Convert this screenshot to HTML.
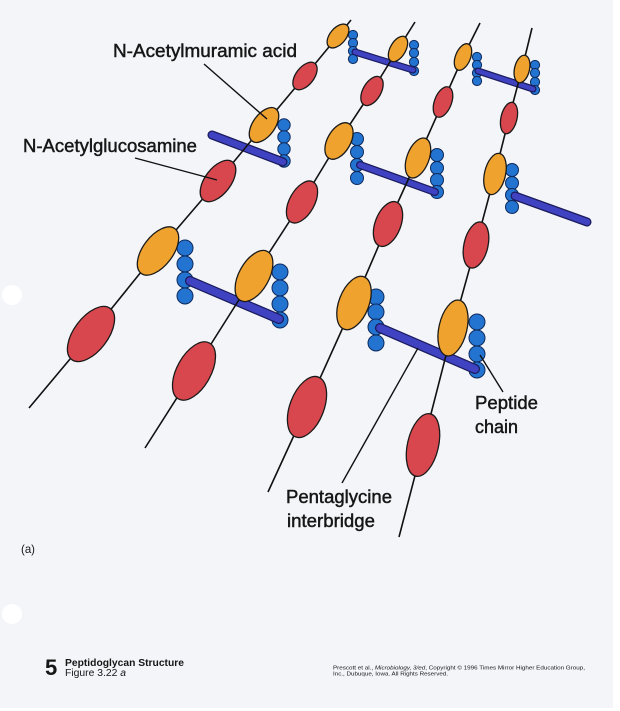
<!DOCTYPE html>
<html>
<head>
<meta charset="utf-8">
<style>
  html, body { margin:0; padding:0; background:#ffffff; }
  body { width:620px; height:711px; overflow:hidden; }
  svg { display:block; }
  .lbl { font-family:"Liberation Sans", Arial, sans-serif; font-size:18px; fill:#161616; stroke:#161616; stroke-width:0.45; }
  .ft { font-family:"Liberation Sans", Arial, sans-serif; fill:#161616; }
</style>
</head>
<body>
<svg width="620" height="711" viewBox="0 0 620 711" xmlns="http://www.w3.org/2000/svg">
  <!-- background -->
  <rect x="0" y="0" width="620" height="711" fill="#ffffff"/>
  <rect x="0" y="0" width="613" height="708" fill="#f3f5f9"/>
  <!-- punch holes -->
  <circle cx="12" cy="295" r="10" fill="#ffffff"/>
  <circle cx="12" cy="614" r="10" fill="#ffffff"/>

  <!-- peptide circles -->
  <g fill="#2373d1" stroke="#0f2a5c" stroke-width="1">
    <!-- P1a -->
    <circle cx="353" cy="35" r="4.6"/><circle cx="353" cy="43" r="4.6"/><circle cx="353" cy="51" r="4.6"/><circle cx="353" cy="59" r="4.6"/>
    <!-- P2a -->
    <circle cx="414" cy="45" r="4.6"/><circle cx="414" cy="53" r="4.6"/><circle cx="414" cy="62" r="4.6"/><circle cx="414" cy="71" r="4.6"/>
    <!-- P3a -->
    <circle cx="477" cy="57" r="4.6"/><circle cx="477" cy="65" r="4.6"/><circle cx="477" cy="73" r="4.6"/><circle cx="477" cy="81" r="4.6"/>
    <!-- P4a -->
    <circle cx="535" cy="65" r="4.6"/><circle cx="535" cy="73" r="4.6"/><circle cx="535" cy="82" r="4.6"/><circle cx="535" cy="90" r="4.6"/>
    <!-- P1b -->
    <circle cx="284" cy="125" r="6.2"/><circle cx="284" cy="137" r="6.2"/><circle cx="284" cy="149" r="6.2"/><circle cx="284" cy="161" r="6.2"/>
    <!-- P2b -->
    <circle cx="357" cy="139" r="6.5"/><circle cx="357" cy="152" r="6.5"/><circle cx="357" cy="165" r="6.5"/><circle cx="357" cy="178" r="6.5"/>
    <!-- P3b -->
    <circle cx="437" cy="155" r="6.5"/><circle cx="437" cy="168" r="6.5"/><circle cx="437" cy="180" r="6.5"/><circle cx="437" cy="192" r="6.5"/>
    <!-- P4b -->
    <circle cx="512" cy="170" r="6.5"/><circle cx="512" cy="183" r="6.5"/><circle cx="512" cy="195" r="6.5"/><circle cx="512" cy="207" r="6.5"/>
    <!-- P1c -->
    <circle cx="185" cy="248" r="8"/><circle cx="185" cy="264" r="8"/><circle cx="185" cy="280" r="8"/><circle cx="185" cy="296" r="8"/>
    <!-- P2c -->
    <circle cx="280" cy="272" r="8"/><circle cx="280" cy="288" r="8"/><circle cx="280" cy="304" r="8"/><circle cx="280" cy="320" r="8"/>
    <!-- P3c -->
    <circle cx="376" cy="297" r="8"/><circle cx="376" cy="312" r="8"/><circle cx="376" cy="327" r="8"/><circle cx="376" cy="343" r="8"/>
    <!-- P4c -->
    <circle cx="477" cy="322" r="8"/><circle cx="477" cy="338" r="8"/><circle cx="477" cy="354" r="8"/><circle cx="477" cy="370" r="8"/>
  </g>

  <!-- pentaglycine bars: outline -->
  <g stroke="#1b1b5e" stroke-linecap="round" fill="none">
    <line x1="355" y1="52" x2="413" y2="70" stroke-width="7"/>
    <line x1="212" y1="135" x2="283" y2="162" stroke-width="9"/>
    <line x1="360" y1="165" x2="435" y2="192" stroke-width="8"/>
    <line x1="478" y1="71" x2="533" y2="89" stroke-width="7"/>
    <line x1="515" y1="196" x2="587" y2="222" stroke-width="9"/>
    <line x1="190" y1="281" x2="279" y2="319" stroke-width="10"/>
    <line x1="380" y1="328" x2="475" y2="369" stroke-width="10"/>
  </g>
  <!-- pentaglycine bars: fill -->
  <g stroke="#3f43c2" stroke-linecap="round" fill="none">
    <line x1="355" y1="52" x2="413" y2="70" stroke-width="4.6"/>
    <line x1="212" y1="135" x2="283" y2="162" stroke-width="6.5"/>
    <line x1="360" y1="165" x2="435" y2="192" stroke-width="5.6"/>
    <line x1="478" y1="71" x2="533" y2="89" stroke-width="4.6"/>
    <line x1="515" y1="196" x2="587" y2="222" stroke-width="6.5"/>
    <line x1="190" y1="281" x2="279" y2="319" stroke-width="7.5"/>
    <line x1="380" y1="328" x2="475" y2="369" stroke-width="7.5"/>
  </g>

  <!-- glycan chain backbones -->
  <g stroke="#111111" stroke-width="1.6" fill="none" stroke-linejoin="round">
    <polyline points="29,408 91,334 158,251 218,181 264,125 305,76 338,36 351,20"/>
    <polyline points="145,448 194,371 254,276 302,202 339,141 372,91 398,49 415,22"/>
    <polyline points="268,492 307,407 354,303 388,224 418,158 443,102 463,57 480,23"/>
    <polyline points="399,537 423,445 453,328 476,245 495,174 509,118 522,69 532,28"/>
  </g>

  <!-- sugars -->
  <g stroke="#1a1a1a" stroke-width="1.3">
    <!-- chain 1 -->
    <ellipse cx="91" cy="334" rx="17" ry="32" fill="#d9474e" transform="rotate(37 91 334)"/>
    <ellipse cx="158" cy="251" rx="15" ry="28" fill="#f0a22e" transform="rotate(37 158 251)"/>
    <ellipse cx="218" cy="181" rx="13" ry="24" fill="#d9474e" transform="rotate(37 218 181)"/>
    <ellipse cx="264" cy="125" rx="11" ry="20" fill="#f0a22e" transform="rotate(36 264 125)"/>
    <ellipse cx="305" cy="76" rx="9" ry="16" fill="#d9474e" transform="rotate(38 305 76)"/>
    <ellipse cx="338" cy="36" rx="8" ry="14" fill="#f0a22e" transform="rotate(40 338 36)"/>
    <!-- chain 2 -->
    <ellipse cx="194" cy="371" rx="17" ry="32" fill="#d9474e" transform="rotate(29 194 371)"/>
    <ellipse cx="254" cy="276" rx="15" ry="28" fill="#f0a22e" transform="rotate(29 254 276)"/>
    <ellipse cx="302" cy="202" rx="12.5" ry="23" fill="#d9474e" transform="rotate(29 302 202)"/>
    <ellipse cx="339" cy="141" rx="11.5" ry="20" fill="#f0a22e" transform="rotate(30 339 141)"/>
    <ellipse cx="372" cy="91" rx="9" ry="16" fill="#d9474e" transform="rotate(30 372 91)"/>
    <ellipse cx="398" cy="49" rx="7.7" ry="14" fill="#f0a22e" transform="rotate(30 398 49)"/>
    <!-- chain 3 -->
    <ellipse cx="307" cy="407" rx="17" ry="32" fill="#d9474e" transform="rotate(21 307 407)"/>
    <ellipse cx="354" cy="303" rx="15" ry="28" fill="#f0a22e" transform="rotate(21 354 303)"/>
    <ellipse cx="388" cy="224" rx="12.8" ry="23.5" fill="#d9474e" transform="rotate(21 388 224)"/>
    <ellipse cx="418" cy="158" rx="11" ry="21" fill="#f0a22e" transform="rotate(21 418 158)"/>
    <ellipse cx="443" cy="102" rx="8.5" ry="16" fill="#d9474e" transform="rotate(21 443 102)"/>
    <ellipse cx="463" cy="57" rx="7.5" ry="14" fill="#f0a22e" transform="rotate(22 463 57)"/>
    <!-- chain 4 -->
    <ellipse cx="423" cy="445" rx="15.5" ry="32" fill="#d9474e" transform="rotate(13 423 445)"/>
    <ellipse cx="453" cy="328" rx="14" ry="28.5" fill="#f0a22e" transform="rotate(13 453 328)"/>
    <ellipse cx="476" cy="245" rx="12" ry="23.5" fill="#d9474e" transform="rotate(13 476 245)"/>
    <ellipse cx="495" cy="174" rx="10.5" ry="21" fill="#f0a22e" transform="rotate(13 495 174)"/>
    <ellipse cx="509" cy="118" rx="8" ry="16" fill="#d9474e" transform="rotate(13 509 118)"/>
    <ellipse cx="522" cy="69" rx="7.5" ry="14" fill="#f0a22e" transform="rotate(13 522 69)"/>
  </g>

  <!-- leader lines -->
  <g stroke="#111111" stroke-width="1.4" fill="none">
    <line x1="204" y1="64" x2="267" y2="119"/>
    <line x1="135" y1="158" x2="217" y2="180"/>
    <line x1="503" y1="392" x2="480" y2="355"/>
    <line x1="342" y1="483" x2="418" y2="348"/>
  </g>

  <!-- labels -->
  <text class="lbl" x="113" y="57" textLength="184" lengthAdjust="spacingAndGlyphs">N-Acetylmuramic acid</text>
  <text class="lbl" x="23" y="152" textLength="174" lengthAdjust="spacingAndGlyphs">N-Acetylglucosamine</text>
  <text class="lbl" x="475" y="409" textLength="63" lengthAdjust="spacingAndGlyphs">Peptide</text>
  <text class="lbl" x="475" y="433" textLength="43" lengthAdjust="spacingAndGlyphs">chain</text>
  <text class="lbl" x="286" y="503" textLength="106" lengthAdjust="spacingAndGlyphs">Pentaglycine</text>
  <text class="lbl" x="287" y="527" textLength="88" lengthAdjust="spacingAndGlyphs">interbridge</text>

  <!-- (a) -->
  <text class="ft" x="21" y="553" font-size="12" textLength="14" lengthAdjust="spacingAndGlyphs">(a)</text>

  <!-- footer -->
  <text class="ft" x="45" y="675" font-size="22" font-weight="bold">5</text>
  <text class="ft" x="65" y="666" font-size="10" font-weight="bold" textLength="119" lengthAdjust="spacingAndGlyphs">Peptidoglycan Structure</text>
  <text class="ft" x="65" y="676" font-size="10" textLength="61" lengthAdjust="spacingAndGlyphs">Figure 3.22 <tspan font-style="italic">a</tspan></text>

  <text class="ft" x="333" y="669.5" font-size="5.6" textLength="252" lengthAdjust="spacingAndGlyphs">Prescott et al., <tspan font-style="italic">Microbiology, 3/ed</tspan>, Copyright © 1996 Times Mirror Higher Education Group,</text>
  <text class="ft" x="333" y="675.5" font-size="5.6" textLength="115" lengthAdjust="spacingAndGlyphs">Inc., Dubuque, Iowa. All Rights Reserved.</text>
</svg>
</body>
</html>
